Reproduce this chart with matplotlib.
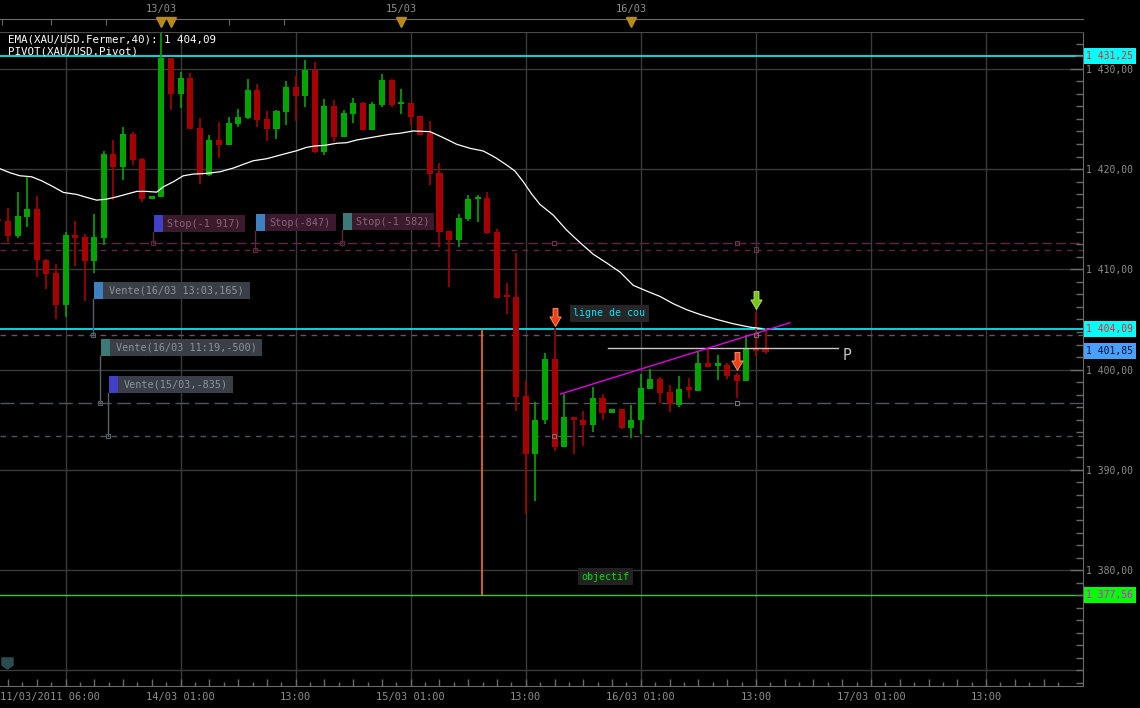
import numpy as np
import matplotlib
matplotlib.use("Agg")
import matplotlib.pyplot as plt
from matplotlib import transforms
from matplotlib.patches import Rectangle
from matplotlib.path import Path
from matplotlib.lines import Line2D
from matplotlib.ticker import FixedLocator, FuncFormatter, MultipleLocator, NullLocator

plt.rcParams['font.family'] = ['DejaVu Sans Mono', 'DejaVu Sans']

# ---------------- data (hour index = trading hours since 11/03/2011 06:00) ----------------
hours = list(range(0, 81))
opens = [1415.0, 1414.8, 1413.3, 1415.2, 1416.0, 1410.9, 1409.6, 1406.4, 1413.4, 1413.2,
         1410.8, 1413.1, 1421.5, 1420.2, 1423.5, 1421.0, 1417.0, 1417.2, 1431.1, 1427.5,
         1429.1, 1424.1, 1419.4, 1422.9, 1422.4, 1424.5, 1425.1, 1427.9, 1425.0, 1424.0,
         1425.7, 1428.2, 1427.3, 1429.9, 1421.7, 1426.3, 1423.2, 1425.5, 1426.6, 1423.9,
         1426.4, 1428.9, 1426.5, 1426.6, 1425.3, 1423.6, 1419.6, 1413.8, 1412.9, 1415.0,
         1417.0, 1417.1, 1413.7, 1407.3, 1407.2, 1397.4, 1391.6, 1395.0, 1401.1, 1392.3,
         1395.3, 1395.0, 1394.5, 1397.2, 1395.7, 1396.1, 1394.2, 1395.0, 1398.1, 1399.1,
         1397.8, 1396.5, 1398.1, 1397.9, 1400.7, 1400.4, 1400.5, 1399.5, 1398.9, 1402.1,
         1401.9]
highs = [1415.3, 1416.1, 1417.7, 1419.2, 1417.3, 1411.0, 1410.5, 1413.7, 1414.8, 1413.5,
         1415.5, 1421.8, 1422.9, 1424.2, 1423.7, 1421.1, 1417.3, 1434.5, 1431.1, 1429.7,
         1429.6, 1425.1, 1423.4, 1424.7, 1425.2, 1426.0, 1429.0, 1428.5, 1425.8, 1425.9,
         1428.8, 1429.3, 1430.9, 1430.7, 1427.0, 1426.9, 1425.9, 1427.1, 1426.7, 1426.7,
         1429.5, 1429.0, 1428.0, 1426.6, 1425.3, 1424.8, 1420.6, 1413.8, 1415.5, 1417.4,
         1417.4, 1417.7, 1414.0, 1408.6, 1411.6, 1398.9, 1396.8, 1401.7, 1404.1, 1397.6,
         1395.3, 1395.9, 1398.3, 1397.6, 1396.1, 1396.1, 1396.5, 1399.6, 1400.1, 1399.3,
         1398.5, 1399.4, 1399.2, 1401.8, 1402.2, 1401.5, 1400.7, 1399.7, 1403.3, 1405.7,
         1404.1]
lows = [1414.5, 1412.7, 1413.1, 1414.2, 1409.2, 1408.0, 1405.0, 1405.2, 1410.3, 1406.8,
        1409.6, 1412.4, 1416.9, 1418.9, 1420.4, 1416.7, 1417.0, 1417.2, 1425.9, 1426.1,
        1424.0, 1418.5, 1419.3, 1421.1, 1422.4, 1424.2, 1425.0, 1424.2, 1422.8, 1423.0,
        1424.4, 1424.8, 1426.2, 1421.6, 1421.4, 1422.7, 1423.2, 1424.6, 1423.9, 1423.9,
        1426.2, 1426.2, 1425.5, 1424.4, 1423.4, 1418.4, 1412.2, 1408.2, 1412.2, 1414.8,
        1414.7, 1413.5, 1407.1, 1405.5, 1395.9, 1385.6, 1386.9, 1394.6, 1391.9, 1392.3,
        1391.6, 1392.4, 1393.8, 1395.0, 1395.7, 1394.1, 1393.2, 1393.6, 1398.1, 1396.7,
        1395.8, 1396.3, 1397.2, 1397.9, 1400.3, 1399.0, 1399.1, 1397.2, 1398.9, 1401.4,
        1401.6]
closes = [1414.8, 1413.3, 1415.3, 1416.0, 1410.9, 1409.5, 1406.4, 1413.4, 1413.1, 1410.8,
          1413.2, 1421.5, 1420.2, 1423.5, 1420.9, 1417.0, 1417.3, 1431.1, 1427.5, 1429.1,
          1424.0, 1419.4, 1422.9, 1422.4, 1424.6, 1425.2, 1427.9, 1424.9, 1424.0, 1425.8,
          1428.2, 1427.3, 1429.9, 1421.7, 1426.3, 1423.2, 1425.6, 1426.6, 1423.9, 1426.5,
          1428.9, 1426.4, 1426.6, 1425.2, 1423.4, 1419.5, 1413.7, 1412.9, 1415.1, 1417.0,
          1417.1, 1413.6, 1407.1, 1407.2, 1397.3, 1391.6, 1395.0, 1401.1, 1392.3, 1395.3,
          1395.0, 1394.5, 1397.2, 1395.7, 1396.1, 1394.2, 1395.0, 1398.2, 1399.1, 1397.7,
          1396.6, 1398.1, 1398.0, 1400.7, 1400.3, 1400.5, 1399.4, 1398.9, 1402.2, 1401.9,
          1401.8]

ema_hours = [0.17, 1.21, 2.25, 3.47, 4.51, 5.73, 6.77, 8.17, 9.21, 10.25,
             11.29, 12.34, 13.38, 14.42, 15.46, 16.51, 17.2, 18.24, 19.28, 20.33,
             21.72, 23.11, 24.5, 25.54, 26.58, 27.98, 29.02, 30.07, 31.11, 32.15,
             33.02, 34.06, 35.28, 36.32, 37.37, 38.41, 39.8, 40.84, 41.88, 43.27,
             45.01, 46.4, 47.8, 49.18, 50.57, 51.79, 53.01, 53.87, 54.74, 55.62,
             56.48, 57.87, 59.27, 60.65, 62.04, 63.44, 64.82, 66.21, 67.61, 68.99,
             70.38, 71.78, 73.17, 74.91, 76.64, 78.38, 79.6]
ema_values = [1420.03, 1419.63, 1419.33, 1419.23, 1418.83, 1418.23, 1417.67, 1417.47, 1417.17, 1416.9,
              1417.0, 1417.23, 1417.5, 1417.77, 1417.77, 1417.7, 1418.23, 1418.73, 1419.33, 1419.5,
              1419.57, 1419.73, 1420.1, 1420.47, 1420.83, 1421.03, 1421.3, 1421.57, 1421.83, 1422.17,
              1422.3, 1422.37, 1422.57, 1422.63, 1422.9, 1423.07, 1423.3, 1423.47, 1423.57, 1423.8,
              1423.73, 1423.13, 1422.47, 1422.07, 1421.8, 1421.17, 1420.4, 1419.8, 1418.73, 1417.5,
              1416.47, 1415.4, 1413.9, 1412.67, 1411.5, 1410.63, 1409.73, 1408.4, 1407.83, 1407.3,
              1406.57, 1405.97, 1405.5, 1405.0, 1404.57, 1404.23, 1404.1]

# horizontal levels
cyan_levels = [1431.25, 1404.09]
target_level = 1377.56
pivot_level = 1401.85
stop_levels = [1412.63, 1411.97]
vente_levels = [1403.47, 1396.7, 1393.4]

# P line and neckline
p_line_hours = [63.57, 87.56]
p_line_price = 1402.17
neck_hours = [58.64, 82.55]
neck_prices = [1397.57, 1404.67]
objective_hour = 50.46

# order tags: anchor hour, anchor price, text
stop_tag_hours = [16.15, 26.79, 35.86]
stop_tag_prices = [1412.63, 1411.97, 1412.63]
stop_tag_texts = ["Stop(-1 917)", "Stop(-847)", "Stop(-1 582)"]
vente_tag_hours = [9.86, 10.6, 11.43]
vente_tag_prices = [1403.47, 1396.7, 1393.4]
vente_tag_texts = ["Vente(16/03 13:03,165)", "Vente(16/03 11:19,-500)", "Vente(15/03,-835)"]

# exit markers
exit_hours = [57.94, 76.99, 78.98, 78.98, 57.94, 76.99]
exit_prices = [1412.63, 1412.63, 1411.97, 1403.47, 1393.4, 1396.7]

# arrows
sell_arrow_hours = [58, 77]
sell_arrow_prices = [1405.25, 1400.9]
buy_arrow_hours = [79]
buy_arrow_prices = [1406.9]

# event markers on top strip
event_hours = [17, 18, 42, 66]
event_label_hours = [17, 42, 66]
event_labels = ["13/03", "15/03", "16/03"]
top_tick_hours = [0.35, 5.5, 11.2, 17.06, 24.0, 29.8]

xtick_hours = [19, 31, 43, 55, 67, 79, 91, 103]
xtick_labels = ["14/03 01:00", "13:00", "15/03 01:00", "13:00", "16/03 01:00", "13:00", "17/03 01:00", "13:00"]

# ---------------- figure ----------------
W, H = 1140, 708
fig = plt.figure(figsize=(W / 100, H / 100), dpi=100, facecolor='black')

X0, KX = -1.6, 9.589
Y1430, KY = 68.8, 10.026
AX_L, AX_R, AX_T, AX_B = 0, 1083, 32, 686

ax = fig.add_axes([AX_L / W, 1 - AX_B / H, (AX_R - AX_L) / W, (AX_B - AX_T) / H], facecolor='black')
xlim = ((AX_L - X0) / KX, (AX_R - X0) / KX)
ylim = (1430 - (AX_B - Y1430) / KY, 1430 - (AX_T - Y1430) / KY)

GRID = '#3a3a3a'
AXC = '#6a6a6a'
TXT = '#8e8e8e'

for hxx in [7] + xtick_hours:
    ax.axvline(hxx, color=GRID, lw=1.0, zorder=0)
for py in range(1370, 1431, 10):
    ax.axhline(py, color=GRID, lw=1.0, zorder=0)

for lv in cyan_levels:
    ax.axhline(lv, color='#00e8e8', lw=1.3, zorder=1.5)
ax.axhline(target_level, color='#3cc83c', lw=1.0, zorder=1.5)
ax.axhline(stop_levels[0], color='#5e2844', lw=1.0, dashes=(7, 3), zorder=1)
ax.axhline(stop_levels[1], color='#5e2844', lw=1.0, dashes=(4, 4), zorder=1)
ax.axhline(vente_levels[0], color='#5a5a62', lw=1.0, dashes=(4, 4), zorder=1)
ax.axhline(vente_levels[1], color='#50545c', lw=1.0, dashes=(10, 4), zorder=1)
ax.axhline(vente_levels[2], color='#50545c', lw=1.0, dashes=(4, 4), zorder=1)

o = np.array(opens); c = np.array(closes); hi = np.array(highs); lo = np.array(lows)
hx = np.array(hours)
up = c >= o
cols = np.where(up, '#00a600', '#a80000')
ax.vlines(hx, lo, hi, colors=cols, lw=1.2, zorder=2)
bot = np.minimum(o, c)
hgt = np.maximum(np.abs(c - o), 0.22)
ax.bar(hx, hgt, bottom=bot, width=0.63, color=cols, linewidth=0, zorder=2.1)

ax.plot(ema_hours, ema_values, color='white', lw=0.9, zorder=3)

ax.plot(p_line_hours, [p_line_price, p_line_price], color='#c8c8c8', lw=1.0, zorder=3)
ax.text(p_line_hours[1] + 0.5, p_line_price - 0.8, "P", color='#c8c8c8', fontsize=10.5,
        family='DejaVu Sans', ha='left', va='center', zorder=4)
ax.plot(neck_hours, neck_prices, color='#e000e0', lw=1.0, zorder=3)
ax.vlines(objective_hour, target_level, cyan_levels[1], color='#ff7000', lw=1.2, zorder=3)

ax.text(63.7, 1405.63, "ligne de cou", color='#00e0ff', fontsize=7.2, ha='center', va='center', zorder=5,
        bbox=dict(boxstyle='square,pad=0.35', fc='#262626', ec='none'))
ax.text(63.26, 1379.35, "objectif", color='#00e000', fontsize=7.2, ha='center', va='center', zorder=5,
        bbox=dict(boxstyle='square,pad=0.35', fc='#222222', ec='none'))

def draw_tag(t, p, dx, up_px, h, w, sq_col, bg, txt, tcol, lcol):
    tr = transforms.ScaledTranslation(t, p, ax.transData)
    ax.add_line(Line2D([0, 0], [0, up_px], color=lcol, lw=1.0, transform=tr, zorder=4))
    ax.add_patch(Rectangle((-2, -2), 4, 4, fill=False, ec=lcol, lw=0.8, transform=tr, zorder=4))
    ax.add_patch(Rectangle((dx, up_px), 9, h, fc=sq_col, ec='none', transform=tr, zorder=4))
    ax.add_patch(Rectangle((dx + 9, up_px), w, h, fc=bg, ec='none', transform=tr, zorder=4))
    ax.annotate(txt, xy=(t, p), xytext=(dx + 9 + w / 2, up_px + h / 2), textcoords='offset pixels',
                ha='center', va='center', color=tcol, fontsize=7.3, zorder=5)

stop_sq = ['#4040c8', '#3f80c0', '#3c7a78']
stop_geom = [(0.7, 10.5, 17.3, 82), (0.7, 18.3, 17.3, 70.7), (0.7, 12.5, 17, 81.7)]
for i in range(3):
    dx, upp, h, w = stop_geom[i]
    draw_tag(stop_tag_hours[i], stop_tag_prices[i], dx, upp, h, w, stop_sq[i], '#3c1a2e',
             stop_tag_texts[i], '#86647a', '#5e2844')
vente_sq = ['#3f80c0', '#3c7a78', '#4040c8']
vente_geom = [(1.0, 36, 17, 146.7), (1.0, 46.6, 16.7, 152), (1.0, 42.3, 17.7, 114.7)]
for i in range(3):
    dx, upp, h, w = vente_geom[i]
    draw_tag(vente_tag_hours[i], vente_tag_prices[i], dx, upp, h, w, vente_sq[i], '#3a3e46',
             vente_tag_texts[i], '#8e9299', '#5a5e66')

ax.scatter(exit_hours[:3], exit_prices[:3], marker='s', s=9, facecolors='none', edgecolors='#6e3050',
           linewidths=0.8, zorder=4)
ax.scatter(exit_hours[3:], exit_prices[3:], marker='s', s=9, facecolors='none', edgecolors='#707078',
           linewidths=0.8, zorder=4)

arrow = Path([(-0.22, 0.8), (0.22, 0.8), (0.22, 0.05), (0.5, 0.05), (0.0, -0.8),
              (-0.5, 0.05), (-0.22, 0.05), (-0.22, 0.8)],
             [Path.MOVETO] + [Path.LINETO] * 6 + [Path.CLOSEPOLY])
ax.plot(sell_arrow_hours, sell_arrow_prices, ls='none', marker=arrow, ms=13, mfc='#f0401a',
        mec='#ff9a70', mew=0.6, zorder=6)
ax.plot(buy_arrow_hours, buy_arrow_prices, ls='none', marker=arrow, ms=13, mfc='#78c41e',
        mec='#b8e870', mew=0.6, zorder=6)

ax.text(8 / (AX_R - AX_L), 1 - 8 / (AX_B - AX_T), "EMA(XAU/USD.Fermer,40): 1 404,09", transform=ax.transAxes,
        color='white', fontsize=7.8, ha='left', va='center', zorder=6)
ax.text(8 / (AX_R - AX_L), 1 - 20 / (AX_B - AX_T), "PIVOT(XAU/USD.Pivot)", transform=ax.transAxes,
        color='white', fontsize=7.8, ha='left', va='center', zorder=6)

shield = Path([(-1, 1), (1, 1), (1, -0.3), (0, -1), (-1, -0.3), (-1, 1)],
              [Path.MOVETO] + [Path.LINETO] * 4 + [Path.CLOSEPOLY])
ax.plot([7 / (AX_R - AX_L)], [(AX_B - 663) / (AX_B - AX_T)], transform=ax.transAxes, marker=shield,
        ms=8, mfc='#2a4c4c', mec='#2a4c4c', ls='none', zorder=6)

ax.set_xlim(*xlim)
ax.set_ylim(*ylim)
ax.spines['left'].set_visible(False)
ax.spines['top'].set_color('#4a4a4a')
ax.spines['right'].set_color(AXC)
ax.spines['bottom'].set_color(AXC)

ax.yaxis.tick_right()
ax.yaxis.set_major_locator(FixedLocator(list(range(1380, 1431, 10))))
ax.yaxis.set_minor_locator(MultipleLocator(1.25))
ax.yaxis.set_major_formatter(FuncFormatter(lambda v, p: f"{v:,.2f}".replace(',', ' ').replace('.', ',')))
ax.tick_params(axis='y', which='major', direction='in', length=9.4, width=1, color=AXC,
               labelcolor=TXT, labelsize=7, pad=2)
ax.tick_params(axis='y', which='minor', direction='in', length=5, width=1, color=AXC)

ax.xaxis.set_major_locator(FixedLocator(list(np.arange(1, 112, 3.0))))
ax.xaxis.set_minor_locator(FixedLocator(list(np.arange(2.5, 112, 3.0))))
lab = dict(zip(xtick_hours, xtick_labels))
ax.xaxis.set_major_formatter(FuncFormatter(lambda v, p: lab.get(int(round(v)), '')))
ax.tick_params(axis='x', which='major', direction='in', length=5, width=1, color=AXC,
               labelcolor=TXT, labelsize=7.5, pad=4)
ax.tick_params(axis='x', which='minor', direction='in', length=2.6, width=1, color=AXC)
fig.text(0.5 / W, 1 - 697 / H, "11/03/2011 06:00", color=TXT, fontsize=7.5, ha='left', va='center')

trb = transforms.blended_transform_factory(ax.transAxes, ax.transData)
hl = [(cyan_levels[0], '#00ffff', '#ff2020'), (cyan_levels[1], '#00ffff', '#ff2020'),
      (pivot_level, '#4aa0ff', '#001030'), (target_level, '#00ff00', '#ff00ff')]
for val, bg, fg in hl:
    tr = transforms.ScaledTranslation(1.0, val, trb)
    ax.add_patch(Rectangle((1, -8), 52, 16, fc=bg, ec='none', transform=tr, clip_on=False, zorder=7))
    ax.annotate(f"{val:,.2f}".replace(',', ' ').replace('.', ','), xy=(1.0, val), xycoords=trb,
                xytext=(27, 0), textcoords='offset pixels', ha='center', va='center', color=fg,
                fontsize=7, annotation_clip=False, zorder=8)

# top strip (independent ticker)
axt = fig.add_axes([AX_L / W, 1 - AX_T / H, (AX_R - AX_L) / W, 13 / H], facecolor='black')
axt.set_xlim(*xlim)
axt.set_ylim(0, 1)
for s in ['left', 'right', 'bottom']:
    axt.spines[s].set_visible(False)
axt.spines['top'].set_color(AXC)
axt.xaxis.tick_top()
axt.xaxis.set_major_locator(FixedLocator(top_tick_hours))
axt.xaxis.set_minor_locator(NullLocator())
axt.tick_params(axis='x', which='both', direction='in', length=4, color=AXC, labeltop=False, labelbottom=False)
axt.tick_params(axis='y', left=False, labelleft=False)
axt.plot(event_hours, [0.75] * len(event_hours), ls='none', marker='v', ms=7, mfc='#b88a1c',
         mec='#b88a1c', zorder=5, clip_on=False)
trt = transforms.blended_transform_factory(axt.transData, fig.transFigure)
for eh, el in zip(event_label_hours, event_labels):
    axt.text(eh, 1 - 9 / H, el, transform=trt, color=TXT, fontsize=7.5, ha='center', va='center')

fig.savefig('out.png', dpi=100, facecolor='black')
